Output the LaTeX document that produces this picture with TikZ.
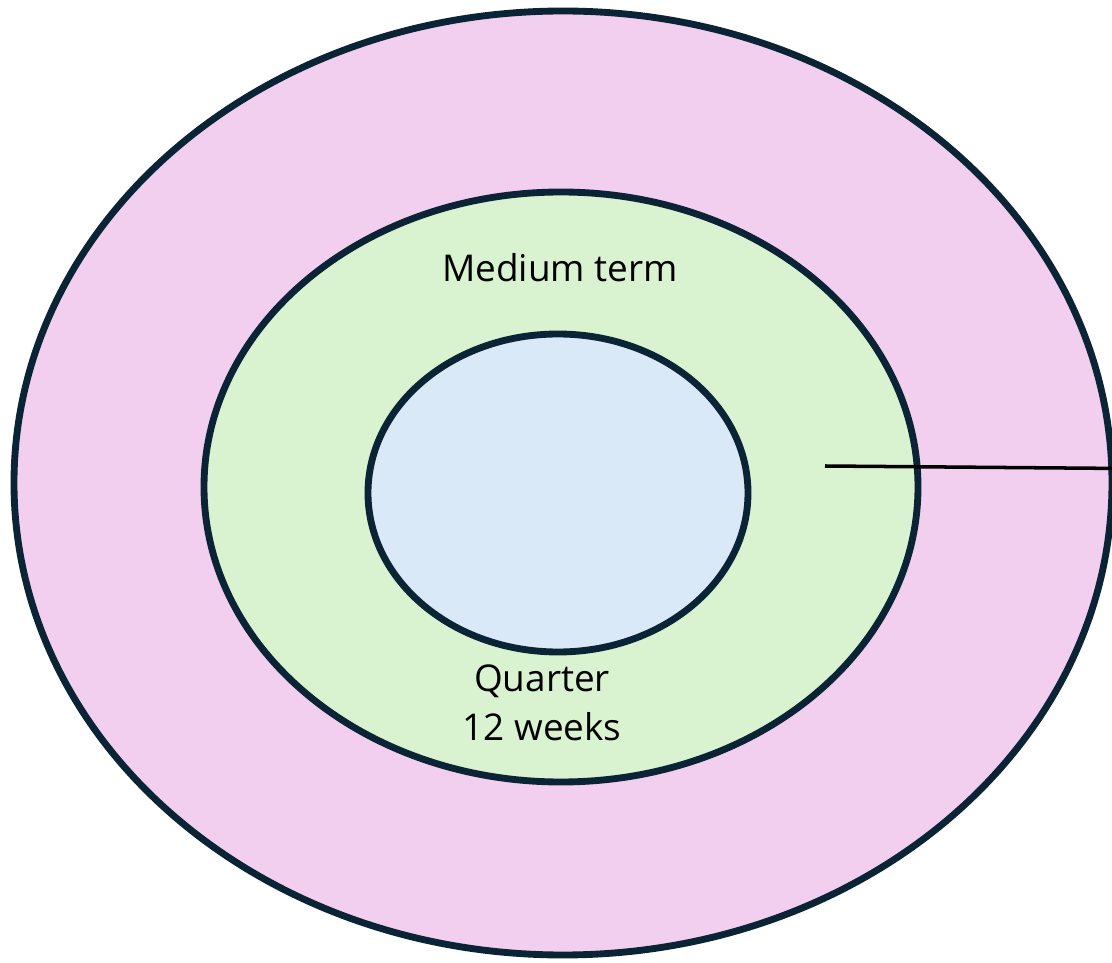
\documentclass[tikz,border=0pt]{standalone}
\usepackage{fontspec}
\setmainfont{Open Sans}
\definecolor{rosa}{HTML}{F2CEEF}
\definecolor{verd}{HTML}{D9F2D0}
\definecolor{blau}{HTML}{DAE9F8}
\definecolor{vora}{HTML}{0A2436}
\tikzset{
  anell/.style={draw=vora, line width=3.9pt},
  etiqueta/.style={font=\fontsize{21}{27.8}\selectfont, align=center, inner sep=0pt}
}
\begin{document}
\begin{tikzpicture}
% marges de la figura
\useasboundingbox (0,0) rectangle (22.24,-19.26);
\clip (0,0) rectangle (22.24,-19.26);

\draw [anell, fill=rosa](11.26,-9.66) ellipse (10.98 and 9.44);
\draw [anell, fill=verd](11.22,-9.74) ellipse (7.14 and 5.90);
\draw [anell, fill=blau](11.16,-9.86) ellipse (3.80 and 3.18);

\node[etiqueta] (mitja) at (11.2,-5.36) {Medium term};
\node[etiqueta] (trimestre) at (10.84,-14.06) {Quarter\\12 weeks};

\coordinate (inici) at (16.5,-9.32);
\coordinate (final) at (22.5,-9.37);
\draw [line width=2pt](inici) -- (final);

\end{tikzpicture}
\end{document}
